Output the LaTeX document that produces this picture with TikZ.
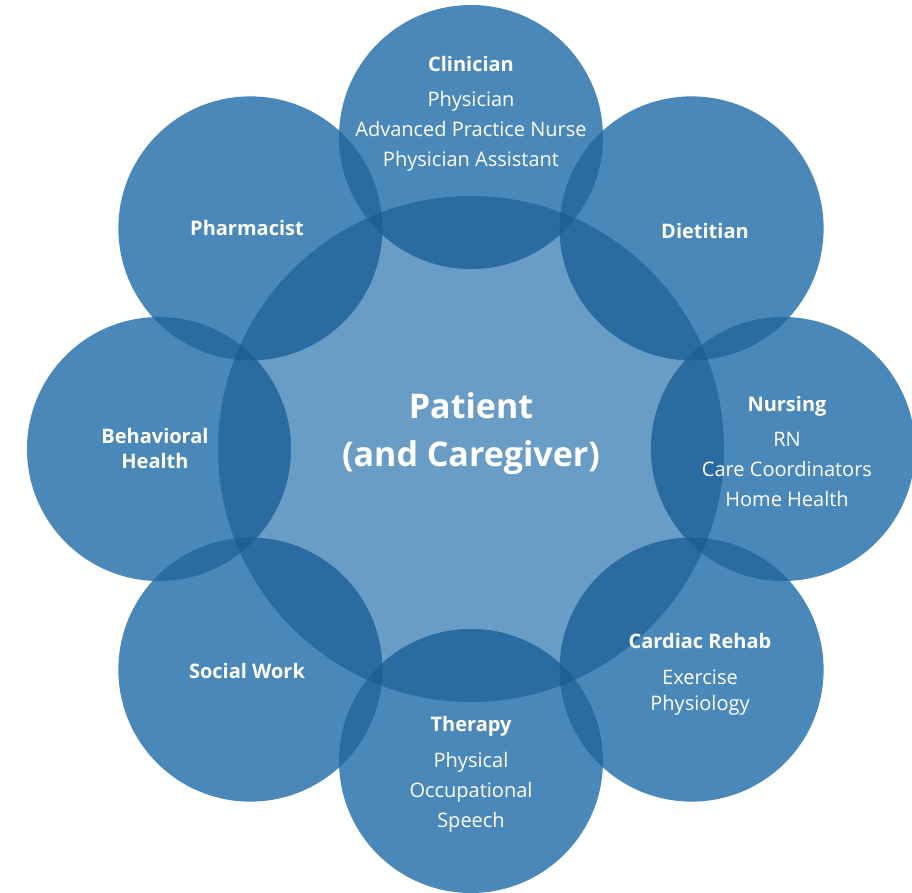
\documentclass[tikz,border=0pt]{standalone}
\usepackage{fontspec}
\setmainfont{Open Sans}
\definecolor{hubblue}{HTML}{6A9DC6}
\definecolor{ringblue}{HTML}{4A88BA}
\definecolor{lapblue}{HTML}{2A6CA1}
\definecolor{deepblue}{HTML}{1F5F95}
\tikzset{
  rolename/.style={align=center, text=white, font=\fontsize{20}{30}\selectfont},
  hubname/.style={align=center, text=white, font=\fontsize{34}{48}\selectfont\bfseries}
}

\begin{document}
\begin{tikzpicture}[x=1pt,y=1pt]
  \useasboundingbox (-471,-444) rectangle (441,449);
%patient circle
  \fill[hubblue] (0,0) circle (253);
%team circles
  \foreach \a in {90,45,...,-225}
    \fill[ringblue] (\a:312) circle (132);
%team circles over the patient circle
  \foreach \a in {90,45,...,-225}{
    \begin{scope}
      \clip (0,0) circle (253);
      \fill[lapblue] (\a:312) circle (132);
    \end{scope}}
%neighbouring team circles
  \foreach \a in {90,45,...,-225}{
    \pgfmathsetmacro\nb{\a-45}
    \begin{scope}
      \clip (\a:312) circle (132);
      \fill[lapblue] (\nb:312) circle (132);
      \clip (0,0) circle (253);
      \fill[deepblue] (\nb:312) circle (132);
    \end{scope}}
%labels
  \node[hubname] (patient) at (0,15) {Patient\\(and Caregiver)};
  \node[rolename] (clinician) at (0,335.5) {\textbf{Clinician}\\[5pt]Physician\\Advanced Practice Nurse\\Physician Assistant};
  \node[rolename] (dietitian) at (234,218) {\textbf{Dietitian}};
  \node[rolename] (nursing) at (316,-2.5) {\textbf{Nursing}\\[5pt]RN\\Care Coordinators\\Home Health};
  \node[rolename, font=\fontsize{20}{26}\selectfont] (rehab) at (229,-225) {\textbf{Cardiac Rehab}\\[10pt]Exercise\\Physiology};
  \node[rolename] (therapy) at (0,-325) {\textbf{Therapy}\\[6pt]Physical\\Occupational\\Speech};
  \node[rolename] (social) at (-224,-222) {\textbf{Social Work}};
  \node[rolename, font=\fontsize{20}{25}\selectfont] (behavioral) at (-316,0) {\textbf{Behavioral}\\\textbf{Health}};
  \node[rolename] (pharmacist) at (-224,221) {\textbf{Pharmacist}};
\end{tikzpicture}
\end{document}
